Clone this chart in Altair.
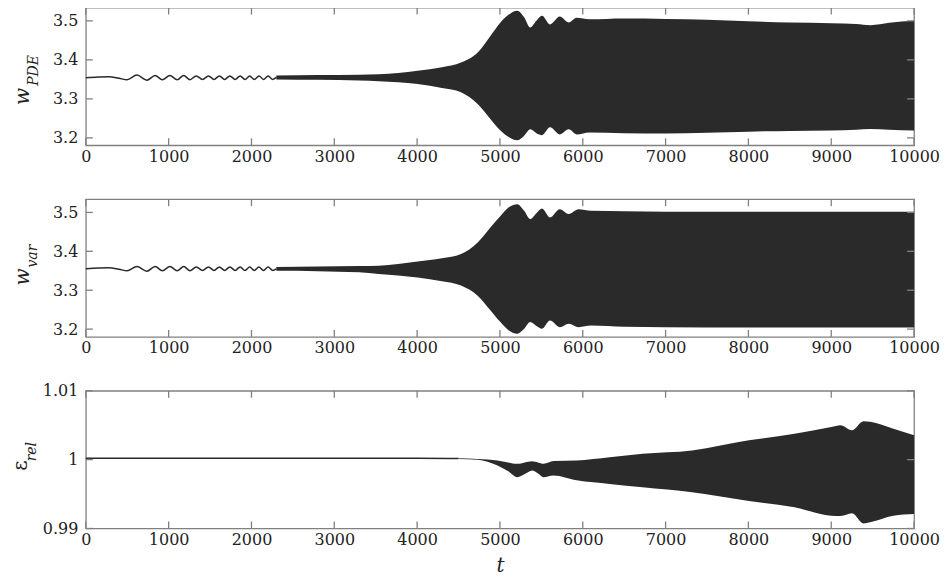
import altair as alt
import pandas as pd

# ---------------- data ----------------
x_ticks = [0, 1000, 2000, 3000, 4000, 5000, 6000, 7000, 8000, 9000, 10000]
w_ticks = [3.2, 3.3, 3.4, 3.5]
e_ticks = [0.99, 1.0, 1.01]

# panel 1: w_PDE, early slow oscillation (extrema)
pde_t = [0, 150, 279, 400, 498, 617, 737, 836, 924, 1015, 1103, 1182, 1258, 1333,
         1409, 1481, 1548, 1612, 1676, 1739, 1803, 1863, 1922, 1978, 2034, 2090,
         2145, 2201, 2257, 2300]
pde_w = [3.354, 3.356, 3.357, 3.353, 3.349, 3.361, 3.348, 3.360, 3.349, 3.360,
         3.349, 3.360, 3.349, 3.359, 3.350, 3.359, 3.350, 3.359, 3.350, 3.359,
         3.350, 3.359, 3.350, 3.359, 3.350, 3.359, 3.350, 3.359, 3.350, 3.355]
# panel 1: envelope of the dense oscillation
pde_bt = [2300, 2800, 3300, 3536, 4006, 4300, 4530, 4731, 4887, 5006, 5100, 5209,
          5290, 5366, 5440, 5508, 5604, 5723, 5830, 5926, 6081, 6500, 7000, 7500,
          8000, 8500, 9000, 9300, 9474, 9700, 10000]
pde_hi = [3.360, 3.361, 3.362, 3.363, 3.372, 3.381, 3.393, 3.419, 3.462, 3.496,
          3.515, 3.526, 3.510, 3.483, 3.500, 3.513, 3.491, 3.511, 3.496, 3.508,
          3.504, 3.506, 3.505, 3.503, 3.499, 3.496, 3.494, 3.492, 3.489, 3.495, 3.500]
pde_lo = [3.350, 3.349, 3.347, 3.345, 3.338, 3.328, 3.317, 3.287, 3.248, 3.219,
          3.203, 3.194, 3.205, 3.222, 3.212, 3.207, 3.227, 3.209, 3.222, 3.209,
          3.214, 3.212, 3.211, 3.213, 3.216, 3.218, 3.219, 3.221, 3.223, 3.221, 3.219]

# panel 2: w_var
var_t = [0, 150, 279, 400, 498, 617, 737, 836, 924, 1015, 1103, 1182, 1258, 1333,
         1409, 1481, 1548, 1612, 1676, 1739, 1803, 1863, 1922, 1978, 2034, 2090,
         2145, 2201, 2257, 2300]
var_w = [3.355, 3.357, 3.358, 3.354, 3.350, 3.361, 3.349, 3.361, 3.350, 3.361,
         3.350, 3.361, 3.350, 3.360, 3.351, 3.360, 3.351, 3.360, 3.351, 3.360,
         3.351, 3.360, 3.351, 3.360, 3.351, 3.360, 3.351, 3.360, 3.351, 3.355]
var_bt = [2300, 2800, 3300, 3536, 4006, 4300, 4530, 4731, 4887, 5006, 5100, 5209,
          5290, 5366, 5440, 5508, 5604, 5723, 5830, 5950, 6100, 6500, 7000, 8000,
          9000, 10000]
var_hi = [3.360, 3.361, 3.362, 3.363, 3.374, 3.382, 3.393, 3.423, 3.462, 3.491,
          3.512, 3.521, 3.505, 3.483, 3.498, 3.510, 3.487, 3.508, 3.496, 3.508,
          3.504, 3.503, 3.502, 3.502, 3.502, 3.502]
var_lo = [3.350, 3.349, 3.346, 3.342, 3.333, 3.323, 3.312, 3.286, 3.248, 3.218,
          3.198, 3.188, 3.200, 3.218, 3.208, 3.201, 3.222, 3.205, 3.214, 3.205,
          3.209, 3.206, 3.205, 3.204, 3.204, 3.204]

# panel 3: eps_rel
rel_t = [0, 1000, 2000, 3000, 4000, 4500]
rel_e = [1.0002, 1.0002, 1.0002, 1.0002, 1.0002, 1.00015]
rel_bt = [4500, 4731, 4970, 5100, 5209, 5300, 5388, 5460, 5527, 5647, 5926, 6324,
          6722, 7320, 8006, 8557, 9000, 9112, 9250, 9390, 9470, 9750, 10000]
rel_hi = [1.0002, 1.0001, 0.99988, 0.9996, 0.99939, 0.9996, 0.99978, 0.9996,
          0.9994, 0.9998, 0.99988, 1.00036, 1.00085, 1.00134, 1.0028, 1.00377,
          1.00475, 1.0050, 1.00426, 1.00557, 1.0055, 1.0045, 1.00353]
rel_lo = [1.0001, 1.0000, 0.99915, 0.9983, 0.99745, 0.9979, 0.99842, 0.9980,
          0.99745, 0.9977, 0.9970, 0.99647, 0.99598, 0.99526, 0.9940, 0.99307,
          0.99185, 0.9918, 0.9922, 0.99073, 0.9909, 0.99185, 0.9921]

# ---------------- chart ----------------
W, H = 830, 138
FONT = "DejaVu Serif"
TICK_COLOR = "#808080"
INK = "#2a2a2a"
TL = 7
LBL = 16


def panel(lt, lv, bt, bhi, blo, ydom, yticks, yfmt, main, sub, main_pos, sub_pos,
          xtitle=None, main_style="italic", main_size=20):
    xs = alt.Scale(domain=[0, 10000], nice=False, zero=False)
    ys = alt.Scale(domain=ydom, nice=False, zero=False)
    xax = alt.Axis(values=x_ticks, format="d", ticks=False, domain=False, grid=False,
                   labelPadding=3, title=xtitle, labelFlush=False,
                   labelFont=FONT, labelFontSize=LBL, labelColor="#222",
                   titleFont=FONT, titleFontSize=20, titleFontStyle="italic",
                   titleFontWeight="normal", titleColor="#222", titlePadding=8)
    yax = alt.Axis(values=yticks, format=yfmt, ticks=False, domain=False, grid=False,
                   labelPadding=8, title=None, labelFlush=False,
                   labelFont=FONT, labelFontSize=LBL, labelColor="#222")

    line_df = pd.DataFrame({"t": lt, "v": lv})
    band_df = pd.DataFrame({"t": bt, "hi": bhi, "lo": blo})
    xt_df = pd.DataFrame({"t": x_ticks})
    yt_df = pd.DataFrame({"v": yticks})

    band = alt.Chart(band_df).mark_area(color=INK, interpolate="monotone").encode(
        x=alt.X("t:Q", scale=xs, axis=xax),
        y=alt.Y("lo:Q", scale=ys, axis=yax),
        y2="hi:Q",
    )
    line = alt.Chart(line_df).mark_line(color=INK, strokeWidth=1.5,
                                        interpolate="monotone").encode(
        x=alt.X("t:Q", scale=xs, axis=xax),
        y=alt.Y("v:Q", scale=ys, axis=yax),
    )
    xt_top = alt.Chart(xt_df).mark_rule(color=TICK_COLOR, strokeWidth=1.3).encode(
        x=alt.X("t:Q", scale=xs), y=alt.value(0), y2=alt.value(TL))
    xt_bot = alt.Chart(xt_df).mark_rule(color=TICK_COLOR, strokeWidth=1.3).encode(
        x=alt.X("t:Q", scale=xs), y=alt.value(H - TL), y2=alt.value(H))
    yt_l = alt.Chart(yt_df).mark_rule(color=TICK_COLOR, strokeWidth=1.3).encode(
        y=alt.Y("v:Q", scale=ys), x=alt.value(0), x2=alt.value(TL))
    yt_r = alt.Chart(yt_df).mark_rule(color=TICK_COLOR, strokeWidth=1.3).encode(
        y=alt.Y("v:Q", scale=ys), x=alt.value(W - TL), x2=alt.value(W))

    t_main = alt.Chart(pd.DataFrame({"s": [main]})).mark_text(
        font=FONT, fontSize=main_size, fontStyle=main_style, angle=270,
        align="center", baseline="middle", color="#222").encode(
        x=alt.value(main_pos[0]), y=alt.value(main_pos[1]), text="s:N")
    t_sub = alt.Chart(pd.DataFrame({"s": [sub]})).mark_text(
        font=FONT, fontSize=14, fontStyle="italic", angle=270,
        align="center", baseline="middle", color="#222").encode(
        x=alt.value(sub_pos[0]), y=alt.value(sub_pos[1]), text="s:N")

    return alt.layer(band, line, xt_top, xt_bot, yt_l, yt_r, t_main, t_sub).properties(
        width=W, height=H)


p1 = panel(pde_t, pde_w, pde_bt, pde_hi, pde_lo, [3.181, 3.534], w_ticks, ".1f",
           "w", "PDE", (-63, 89), (-52, 63))
p2 = panel(var_t, var_w, var_bt, var_hi, var_lo, [3.180, 3.534], w_ticks, ".1f",
           "w", "var", (-63, 78), (-53, 57))
p3 = panel(rel_t, rel_e, rel_bt, rel_hi, rel_lo, [0.99, 1.01], e_ticks, "~g",
           "ε", "rel", (-65, 75), (-54, 61), xtitle="t", main_style="normal",
           main_size=20)

chart = alt.vconcat(p1, p2, p3, spacing=54, bounds="flush").properties(
    padding={"left": 2, "top": -3, "right": 0, "bottom": 0},
    background="white",
).configure_view(
    stroke=TICK_COLOR, strokeWidth=1.3
)

chart.save("out.html", embed_options={"renderer": "svg", "actions": False})
